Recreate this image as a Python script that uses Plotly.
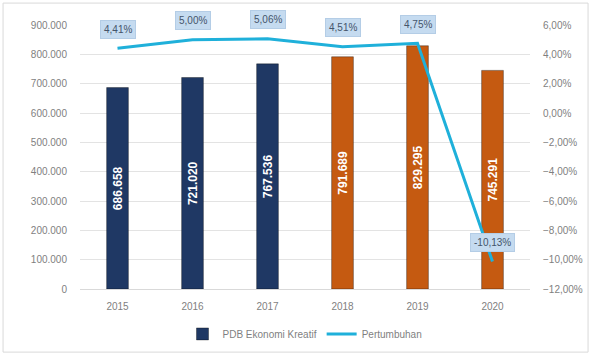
import plotly.graph_objects as go

years = [2015, 2016, 2017, 2018, 2019, 2020]
pdb = [686658, 721020, 767536, 791689, 829295, 745291]
growth = [0.0441, 0.0500, 0.0506, 0.0451, 0.0475, -0.1013]
bar_colors = ["#1F3864", "#1F3864", "#1F3864", "#C55A11", "#C55A11", "#C55A11"]
left_ticks = list(range(0, 900001, 100000))
right_ticks = [-0.12, -0.10, -0.08, -0.06, -0.04, -0.02, 0.0, 0.02, 0.04, 0.06]

font_family = "Liberation Sans, Arial, sans-serif"

fig = go.Figure()
fig.add_trace(go.Bar(
    x=years, y=pdb, name="PDB Ekonomi Kreatif",
    marker=dict(color=bar_colors, line=dict(color="rgba(0,0,0,0.35)", width=1)),
    width=0.29,
    texttemplate="<b>%{y:,.0f}</b>", textposition="inside", insidetextanchor="middle",
    textangle=-90,
    textfont=dict(color="white", size=12, family=font_family),
))
fig.add_trace(go.Scatter(
    x=years, y=growth, name="Pertumbuhan", yaxis="y2", mode="lines",
    line=dict(color="#1FB0DA", width=3),
))

for yr, g in zip(years, growth):
    fig.add_annotation(
        x=yr, y=g, xref="x", yref="y2", yshift=19, showarrow=False,
        text=f"{g*100:.2f}".replace(".", ",") + "%",
        bgcolor="#C5DBF0", bordercolor="#B4CDE6", borderwidth=1, borderpad=3,
        font=dict(size=10, color="#44546A", family=font_family),
    )

fig.add_shape(type="rect", xref="paper", yref="paper",
              x0=-0.171, x1=1.129, y0=-0.239, y1=1.083,
              line=dict(color="#D9D9D9", width=1), layer="below")

fig.update_layout(
    width=593, height=356,
    margin=dict(l=80, r=63, t=25, b=67, autoexpand=False),
    separators=",.",
    plot_bgcolor="white", paper_bgcolor="white",
    font=dict(family=font_family, size=10, color="#7F7F7F"),
    showlegend=True,
    legend=dict(orientation="h", x=0.5, xanchor="center", xref="paper",
                y=0.062, yanchor="middle", yref="container",
                font=dict(size=10, color="#7F7F7F")),
    xaxis=dict(range=[2014.5, 2020.5], tickvals=years, tickformat="d",
               showline=True, linecolor="#D9D9D9", showgrid=False, zeroline=False,
               ticks="outside", ticklen=8, tickcolor="rgba(0,0,0,0)",
               tickfont=dict(size=10, color="#7F7F7F")),
    yaxis=dict(range=[0, 900000], tickvals=left_ticks, tickformat=",.0f",
               showgrid=True, gridcolor="#E3E3E3", zeroline=False,
               ticks="outside", ticklen=10, tickcolor="rgba(0,0,0,0)",
               tickfont=dict(size=10, color="#7F7F7F")),
    yaxis2=dict(range=[-0.12, 0.06], tickvals=right_ticks, tickformat=".2%",
                overlaying="y", side="right", showgrid=False, zeroline=False,
                ticks="outside", ticklen=10, tickcolor="rgba(0,0,0,0)",
                tickfont=dict(size=10, color="#7F7F7F")),
)

fig.write_html("out.html")
